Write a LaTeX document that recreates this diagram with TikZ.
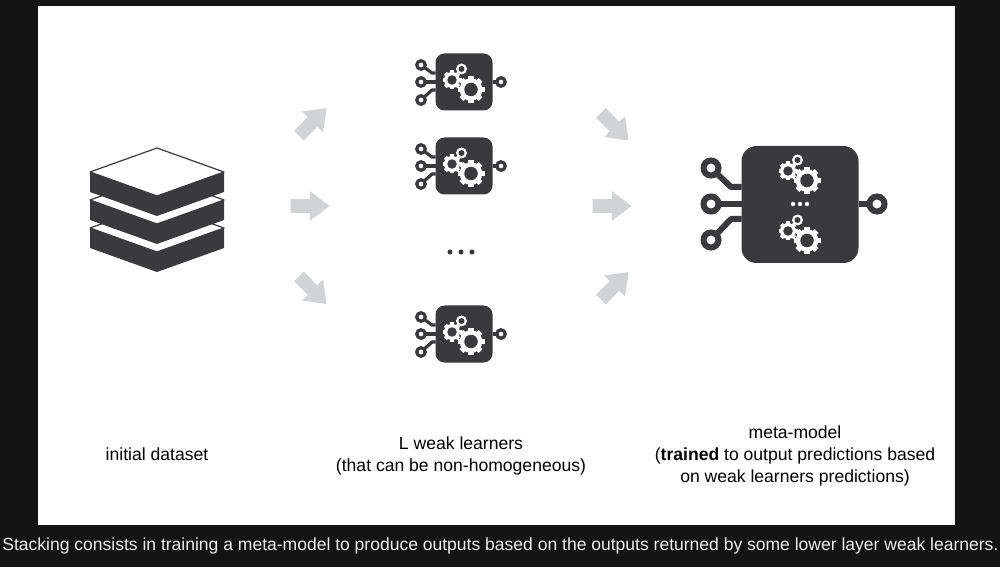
\documentclass[tikz,border=0pt]{standalone}
\usepackage{fontspec}
\setmainfont{Liberation Sans}
\usetikzlibrary{shapes.arrows}
\definecolor{page}{HTML}{141414}
\definecolor{ink}{HTML}{3A3A3C}
\definecolor{pale}{HTML}{D1D3D4}
\definecolor{capt}{HTML}{ECECEC}
\def\u{0.02cm}
\newcommand{\gear}[4]{%
\begin{scope}[shift={(#1,#2)}]
\foreach \a in {0,45,...,315} \draw[white,line width=#4*\u] (\a:#3*0.6) -- (\a:#3);
\fill[white] (0,0) circle (#3*0.84);
\fill[ink] (0,0) circle (#3*0.5);
\end{scope}}
\newcommand{\gearset}[2]{%
\gear{#1+7}{#2+7.5}{13.5}{5.5}
\gear{#1-12}{#2-2}{9.5}{4}
\fill[white] (#1-2.5,#2-13) circle (5.5);
\fill[ink] (#1-2.5,#2-13) circle (3);}
\tikzset{
pin/.style={draw=ink,fill=white,circle,inner sep=0pt,outer sep=0pt},
wire/.style={draw=ink,line join=round},
blockarrow/.style={single arrow,fill=pale,inner xsep=0pt,inner ysep=6.5*\u,outer sep=0pt,minimum height=39*\u,minimum width=29*\u,single arrow head extend=8*\u,single arrow tip angle=74},
label/.style={text=black,font=\fontsize{10}{12.4}\selectfont,align=center},
learner/.pic={
\node [pin,line width=3.2*\u,minimum size=8.5*\u,name=in1] at (-43,-17){};
\node [pin,line width=3.2*\u,minimum size=8.5*\u,name=in2] at (-43,0){};
\node [pin,line width=3.2*\u,minimum size=8.5*\u,name=in3] at (-43,18){};
\node [pin,line width=3.2*\u,minimum size=8.5*\u,name=out] at (37,0){};
\coordinate (j1) at (-32,-9);
\coordinate (j3) at (-32,8);
\node [fill=ink,rounded corners=9*\u,minimum size=57*\u,inner sep=0pt,outer sep=0pt,name=box] at (0,0){};
\draw [wire,line width=3.2*\u] (in1) -- (j1) -- (box.west |- j1);
\draw [wire,line width=3.2*\u] (in2) -- (box.west |- in2);
\draw [wire,line width=3.2*\u] (in3) -- (j3) -- (box.west |- j3);
\draw [wire,line width=3.2*\u] (box.east) -- (out);
\gearset{0}{0}
}
}
\begin{document}
\begin{tikzpicture}[x=\u,y=-\u]
\useasboundingbox (0,0) rectangle (1000,567);
\fill[page] (0,0) rectangle (1000,567);
\fill[white] (38,6) rectangle (955,525);
% dataset
\foreach \o in {56,28,0}{
\draw[ink,fill=white,line width=1.2*\u,line join=round] (90,172+\o) -- (157,148+\o) -- (224,172+\o) -- (157,196+\o) -- cycle;
\fill[ink] (90,172+\o) -- (157,196+\o) -- (224,172+\o) -- (224,192+\o) -- (157,216+\o) -- (90,192+\o) -- cycle;
}
% arrows
\node [blockarrow,rotate=45,name=a1] at (309.5,125){};
\node [blockarrow,name=a2] at (305.5,206){};
\node [blockarrow,rotate=-45,name=a3] at (309.5,287){};
\node [blockarrow,rotate=-45,name=a4] at (611.5,123.5){};
\node [blockarrow,name=a5] at (607.5,206){};
\node [blockarrow,rotate=45,name=a6] at (611.5,289){};
% weak learners
\pic (l1) at (464,82) {learner};
\pic (l2) at (464,166) {learner};
\pic (l3) at (464,334) {learner};
\foreach \x in {450,461,472} \fill[ink] (\x,252) circle (2.5);
% meta-model
\node [pin,line width=6*\u,minimum size=15*\u,name=m1] at (711,168){};
\node [pin,line width=6*\u,minimum size=15*\u,name=m2] at (711,204){};
\node [pin,line width=6*\u,minimum size=15*\u,name=m3] at (711,240){};
\node [pin,line width=6*\u,minimum size=15*\u,name=mo] at (877,204){};
\coordinate (mj1) at (731,187);
\coordinate (mj3) at (731,219);
\node [fill=ink,rounded corners=15*\u,minimum size=117*\u,inner sep=0pt,outer sep=0pt,name=meta] at (800,204.5){};
\draw [wire,line width=6*\u] (m1) -- (mj1) -- (meta.west |- mj1);
\draw [wire,line width=6*\u] (m2) -- (meta.west |- m2);
\draw [wire,line width=6*\u] (m3) -- (mj3) -- (meta.west |- mj3);
\draw [wire,line width=6*\u] (meta.east |- mo) -- (mo);
\gearset{800}{173}
\gearset{800}{233}
\foreach \x in {793,800,807} \fill[white] (\x,204) circle (2.2);
% labels
\node [label,name=t1] at (157,454) {initial dataset};
\node [label,name=t2] at (461,456) {L weak learners\\(that can be non-homogeneous)};
\node [label,name=t3] at (795,456) {meta-model\\(\textbf{trained} to output predictions based\\on weak learners predictions)};
\node [text=capt,font=\fontsize{9.97}{12}\selectfont,anchor=west,inner sep=0pt,name=capt] at (2,546) {Stacking consists in training a meta-model to produce outputs based on the outputs returned by some lower layer weak learners.};
\end{tikzpicture}
\end{document}
